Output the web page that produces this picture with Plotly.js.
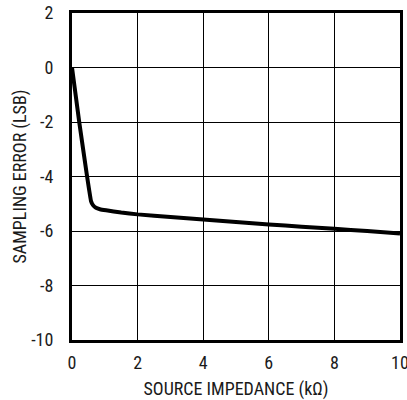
<!DOCTYPE html>
<html>
<head>
<meta charset="utf-8">
<script src="https://cdn.plot.ly/plotly-3.0.1.min.js"></script>
<style>html,body{margin:0;padding:0;background:#fff;}#chart{width:407px;height:400px;}</style>
</head>
<body>
<div id="chart"></div>
<script>
var impedance = [0, 0.22, 0.46, 0.58, 0.64, 0.73, 0.85, 1.04, 1.5, 2, 3, 4, 5, 6, 7, 8, 9, 10];
var samplingError = [0, -2, -4, -4.9, -5.05, -5.15, -5.2, -5.24, -5.32, -5.39, -5.49, -5.58, -5.67, -5.76, -5.84, -5.92, -6.0, -6.09];
var xTicks = [0, 2, 4, 6, 8, 10];
var yTicks = [2, 0, -2, -4, -6, -8, -10];

var fontFam = '"Liberation Sans Narrow", "Arial Narrow", "Roboto Condensed", "Liberation Sans", sans-serif';
var txt = {family: fontFam, size: 18, color: '#1a1a1a'};

var trace = {
  x: impedance,
  y: samplingError,
  type: 'scatter',
  mode: 'lines',
  line: {color: '#000', width: 4, shape: 'spline', smoothing: 0.3},
  hoverinfo: 'none'
};

var layout = {
  width: 407,
  height: 400,
  margin: {l: 72, r: 7, t: 13, b: 60},
  paper_bgcolor: '#fff',
  plot_bgcolor: '#fff',
  showlegend: false,
  font: txt,
  xaxis: {
    range: [0, 10],
    tickvals: xTicks,
    ticktext: xTicks.map(String),
    ticks: '',
    ticklabelstandoff: 4,
    ticklabeloverflow: 'allow',
    showgrid: true,
    gridcolor: '#000',
    gridwidth: 1,
    zeroline: false,
    showline: true,
    linecolor: '#000',
    linewidth: 3,
    mirror: true,
    tickfont: txt,
    title: {text: 'SOURCE IMPEDANCE (kΩ)', font: txt, standoff: 12},
    fixedrange: true
  },
  yaxis: {
    range: [-10, 2],
    tickvals: yTicks,
    ticktext: yTicks.map(String),
    ticks: '',
    ticklabelstandoff: 12,
    ticklabeloverflow: 'allow',
    showgrid: true,
    gridcolor: '#000',
    gridwidth: 1,
    zeroline: false,
    showline: true,
    linecolor: '#000',
    linewidth: 3,
    mirror: true,
    tickfont: txt,
    title: {text: 'SAMPLING ERROR (LSB)', font: txt, standoff: 0},
    fixedrange: true
  }
};

Plotly.newPlot('chart', [trace], layout, {displayModeBar: false, staticPlot: true});
</script>
</body>
</html>
